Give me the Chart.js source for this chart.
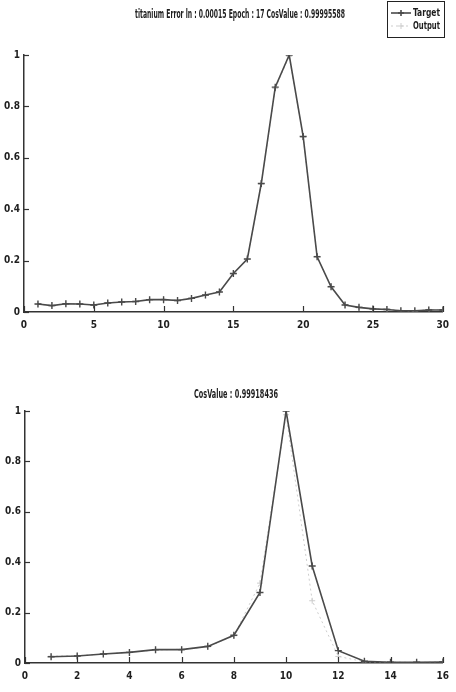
<!DOCTYPE html>
<html>
<head>
<meta charset="utf-8">
<script src="https://cdn.jsdelivr.net/npm/chart.js@4"></script>
<style>
  body { margin: 0; background: #fff; }
  #wrap { position: relative; width: 456px; height: 692px; }
  canvas { position: absolute; left: 0; }
</style>
</head>
<body>
<div id="wrap">
  <canvas id="trainChart" width="456" height="335" style="top:0"></canvas>
  <canvas id="testChart" width="456" height="352" style="top:340px"></canvas>
</div>
<script>
// Training run: 30 samples
const trainX = [1, 2, 3, 4, 5, 6, 7, 8, 9, 10, 11, 12, 13, 14, 15, 16, 17, 18, 19, 20, 21, 22, 23, 24, 25, 26, 27, 28, 29, 30];
const trainTarget = [0.031, 0.025, 0.032, 0.031, 0.027, 0.035, 0.039, 0.041, 0.048, 0.048, 0.045, 0.053, 0.066, 0.078, 0.15,
                     0.206, 0.5, 0.875, 1.0, 0.683, 0.215, 0.098, 0.027, 0.018, 0.012, 0.01, 0.005, 0.005, 0.008, 0.008];
const trainOutput = [0.03, 0.026, 0.033, 0.03, 0.028, 0.036, 0.04, 0.042, 0.047, 0.05, 0.046, 0.054, 0.065, 0.079, 0.148,
                     0.205, 0.497, 0.87, 0.995, 0.68, 0.217, 0.1, 0.028, 0.016, 0.013, 0.012, 0.006, 0.004, 0.01, 0.007];
const trainTitle = 'titanium Error ln : 0.00015 Epoch : 17 CosValue : 0.99995588';

// Test run: 16 samples
const testX = [1, 2, 3, 4, 5, 6, 7, 8, 9, 10, 11, 12, 13, 14, 15, 16];
const testTarget = [0.025, 0.028, 0.036, 0.042, 0.053, 0.053, 0.066, 0.11, 0.28, 1.0, 0.385, 0.049, 0.007, 0.003, 0.003, 0.004];
const testOutput = [0.027, 0.029, 0.035, 0.043, 0.051, 0.055, 0.064, 0.108, 0.317, 0.985, 0.247, 0.026, 0.005, 0.004, 0.002, 0.005];
const testTitle = 'CosValue : 0.99918436';

const seriesNames = ['Target', 'Output'];
const FONT = "'Liberation Sans Narrow', 'Arial Narrow', 'DejaVu Sans Condensed', sans-serif";
const TEXT_COLOR = '#1e1e1e';
const TARGET_COLOR = '#4a4a4a';
const OUTPUT_COLOR = '#cdcdcd';

function toPoints(xs, ys) {
    return xs.map((x, i) => ({ x: x, y: ys[i] }));
}

// MATLAB-ish look: inward tick marks, squeezed title, boxed legend
const matlabAxes = {
    id: 'matlabAxes',
    afterDraw(chart, args, opts) {
        const ctx = chart.ctx;
        const { left, bottom } = chart.chartArea;
        const xs = chart.scales.x, ys = chart.scales.y;
        ctx.save();
        ctx.strokeStyle = '#333';
        ctx.lineWidth = 1.2;
        xs.ticks.forEach(t => {
            const px = Math.round(xs.getPixelForValue(t.value)) + 0.5;
            ctx.beginPath(); ctx.moveTo(px, bottom); ctx.lineTo(px, bottom - 6); ctx.stroke();
        });
        ys.ticks.forEach(t => {
            const py = Math.round(ys.getPixelForValue(t.value)) + 0.5;
            ctx.beginPath(); ctx.moveTo(left, py); ctx.lineTo(left + 5, py); ctx.stroke();
        });

        // title
        ctx.fillStyle = TEXT_COLOR;
        ctx.font = 'bold 12px ' + FONT;
        ctx.textAlign = 'center';
        ctx.textBaseline = 'middle';
        ctx.fillText(opts.title, opts.titleX, opts.titleY, opts.titleWidth);

        // legend
        if (opts.legend) {
            const b = opts.legend;
            ctx.fillStyle = '#fff';
            ctx.fillRect(b.x, b.y, b.w, b.h);
            ctx.strokeStyle = '#222';
            ctx.lineWidth = 1;
            ctx.strokeRect(b.x + 0.5, b.y + 0.5, b.w, b.h);
            chart.data.datasets.forEach((ds, i) => {
                const ly = b.y + 12 + i * 13;
                ctx.strokeStyle = ds.borderColor;
                ctx.lineWidth = ds.borderWidth;
                ctx.setLineDash(ds.borderDash || []);
                ctx.beginPath(); ctx.moveTo(b.x + 4, ly); ctx.lineTo(b.x + 24, ly); ctx.stroke();
                ctx.setLineDash([]);
                ctx.beginPath();
                ctx.moveTo(b.x + 14, ly - 3); ctx.lineTo(b.x + 14, ly + 3);
                ctx.moveTo(b.x + 11, ly); ctx.lineTo(b.x + 17, ly);
                ctx.stroke();
                ctx.fillStyle = TEXT_COLOR;
                ctx.textAlign = 'left';
                ctx.font = 'bold 11px ' + FONT;
                ctx.fillText(ds.label, b.x + 26, ly, 27);
            });
        }
        ctx.restore();
    }
};

function makeChart(id, xs, target, output, xMax, xStep, area, plotOpts) {
    const tickFont = { family: FONT, size: 10, weight: 'bold' };
    return new Chart(document.getElementById(id), {
        type: 'line',
        data: {
            datasets: [
                { label: seriesNames[0], data: toPoints(xs, target), borderColor: TARGET_COLOR, backgroundColor: TARGET_COLOR,
                  borderWidth: 1.6, pointStyle: 'cross', pointRadius: 3.5, pointBorderWidth: 1.4, tension: 0 },
                { label: seriesNames[1], data: toPoints(xs, output), borderColor: OUTPUT_COLOR, backgroundColor: OUTPUT_COLOR,
                  borderWidth: 1, borderDash: [2, 3], pointStyle: 'cross', pointRadius: 3, pointBorderWidth: 1, tension: 0 },
            ],
        },
        options: {
            responsive: false,
            animation: false,
            layout: { padding: area.padding },
            plugins: {
                legend: { display: false },
                tooltip: { enabled: false },
                matlabAxes: plotOpts,
            },
            scales: {
                x: {
                    type: 'linear', min: 0, max: xMax,
                    grid: { display: false, drawTicks: false },
                    border: { display: true, color: '#333', width: 1.5 },
                    ticks: { stepSize: xStep, padding: 7, color: TEXT_COLOR, font: tickFont },
                    afterFit: s => { s.height = area.xHeight; },
                },
                y: {
                    min: 0, max: 1,
                    grid: { display: false, drawTicks: false },
                    border: { display: true, color: '#333', width: 1.5 },
                    ticks: { stepSize: 0.2, padding: 4, color: TEXT_COLOR, font: tickFont,
                             callback: v => String(parseFloat(v.toFixed(1))) },
                    afterFit: s => { s.width = area.yWidth; },
                },
            },
        },
        plugins: [matlabAxes],
    });
}

makeChart('trainChart', trainX, trainTarget, trainOutput, 30, 5,
    { padding: { top: 55, right: 9, bottom: 0, left: 0 }, xHeight: 23, yWidth: 24 },
    { title: trainTitle, titleX: 240, titleY: 15, titleWidth: 210,
      legend: { x: 387, y: 1, w: 57, h: 36 } });

makeChart('testChart', testX, testTarget, testOutput, 16, 2,
    { padding: { top: 71, right: 8, bottom: 7, left: 0 }, xHeight: 22, yWidth: 25 },
    { title: testTitle, titleX: 236, titleY: 55, titleWidth: 84 });
</script>
</body>
</html>
